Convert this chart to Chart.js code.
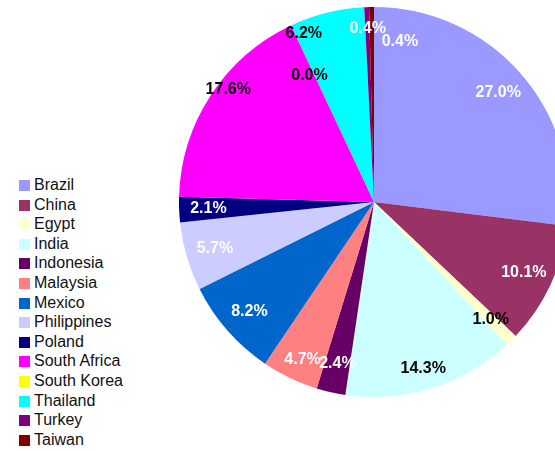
<!DOCTYPE html>
<html>
<head>
<meta charset="utf-8">
<script src="https://cdn.jsdelivr.net/npm/chart.js@4/dist/chart.umd.min.js"></script>
<style>
  html, body { margin: 0; padding: 0; background: #fff; }
  body { width: 555px; height: 451px; overflow: hidden; position: relative; font-family: "Liberation Sans", Arial, sans-serif; }
  #wrap { position: absolute; left: 179px; top: 7px; width: 390px; height: 390px; }
  #legend { position: absolute; left: 19px; top: 175px; }
  .item { height: 19.6px; line-height: 19.6px; font-size: 16px; color: #111; white-space: nowrap; }
  .sw { display: inline-block; width: 11px; height: 11px; margin-right: 4px; vertical-align: -1px; }
</style>
</head>
<body>
<div id="wrap"><canvas id="chart" width="390" height="390"></canvas></div>
<div id="legend"></div>
<script>
// Data
const countries = ['Brazil', 'China', 'Egypt', 'India', 'Indonesia', 'Malaysia', 'Mexico',
  'Philippines', 'Poland', 'South Africa', 'South Korea', 'Thailand', 'Turkey', 'Taiwan'];
const shares = [27.0, 10.1, 1.0, 14.3, 2.4, 4.7, 8.2, 5.7, 2.1, 17.6, 0.0, 6.2, 0.4, 0.4];
const sliceColors = ['#9999ff', '#993366', '#ffffcc', '#ccffff', '#660066', '#ff8080', '#0066cc',
  '#ccccff', '#000080', '#ff00ff', '#ffff00', '#00ffff', '#800080', '#800000'];
const labelColors = ['#fff', '#fff', '#000', '#000', '#fff', '#fff', '#fff',
  '#fff', '#fff', '#000', '#000', '#000', '#fff', '#fff'];

// Nudges for crowded labels (pixels), like the original's overlap handling
const labelNudge = {
  3: [0, 8], 5: [0, 8], 9: [-7, -22], 10: [6, 24], 11: [-30, -8], 12: [0, -8], 13: [28, 5]
};

// Build legend
const legend = document.getElementById('legend');
countries.forEach((name, i) => {
  const row = document.createElement('div');
  row.className = 'item';
  row.innerHTML = '<span class="sw" style="background:' + sliceColors[i] + '"></span>' + name;
  legend.appendChild(row);
});

// Draw percentage labels on slices
const pctLabels = {
  id: 'pctLabels',
  afterDatasetsDraw(chart) {
    const ctx = chart.ctx;
    const meta = chart.getDatasetMeta(0);
    ctx.save();
    ctx.font = 'bold 16px "Liberation Sans", Arial, sans-serif';
    ctx.textAlign = 'center';
    ctx.textBaseline = 'middle';
    meta.data.forEach((arc, i) => {
      const p = arc.getProps(['x', 'y', 'startAngle', 'endAngle', 'outerRadius'], true);
      const mid = (p.startAngle + p.endAngle) / 2;
      const r = p.outerRadius * 0.85;
      const n = labelNudge[i] || [0, 0];
      const x = p.x + Math.cos(mid) * r + n[0];
      const y = p.y + Math.sin(mid) * r + n[1];
      ctx.fillStyle = labelColors[i];
      ctx.fillText(shares[i].toFixed(1) + '%', x, y);
    });
    ctx.restore();
  }
};

new Chart(document.getElementById('chart'), {
  type: 'pie',
  data: {
    labels: countries,
    datasets: [{
      data: shares,
      backgroundColor: sliceColors,
      borderWidth: 0
    }]
  },
  options: {
    responsive: false,
    animation: false,
    layout: { padding: 0 },
    plugins: {
      legend: { display: false },
      tooltip: { enabled: false }
    }
  },
  plugins: [pctLabels]
});
</script>
</body>
</html>
